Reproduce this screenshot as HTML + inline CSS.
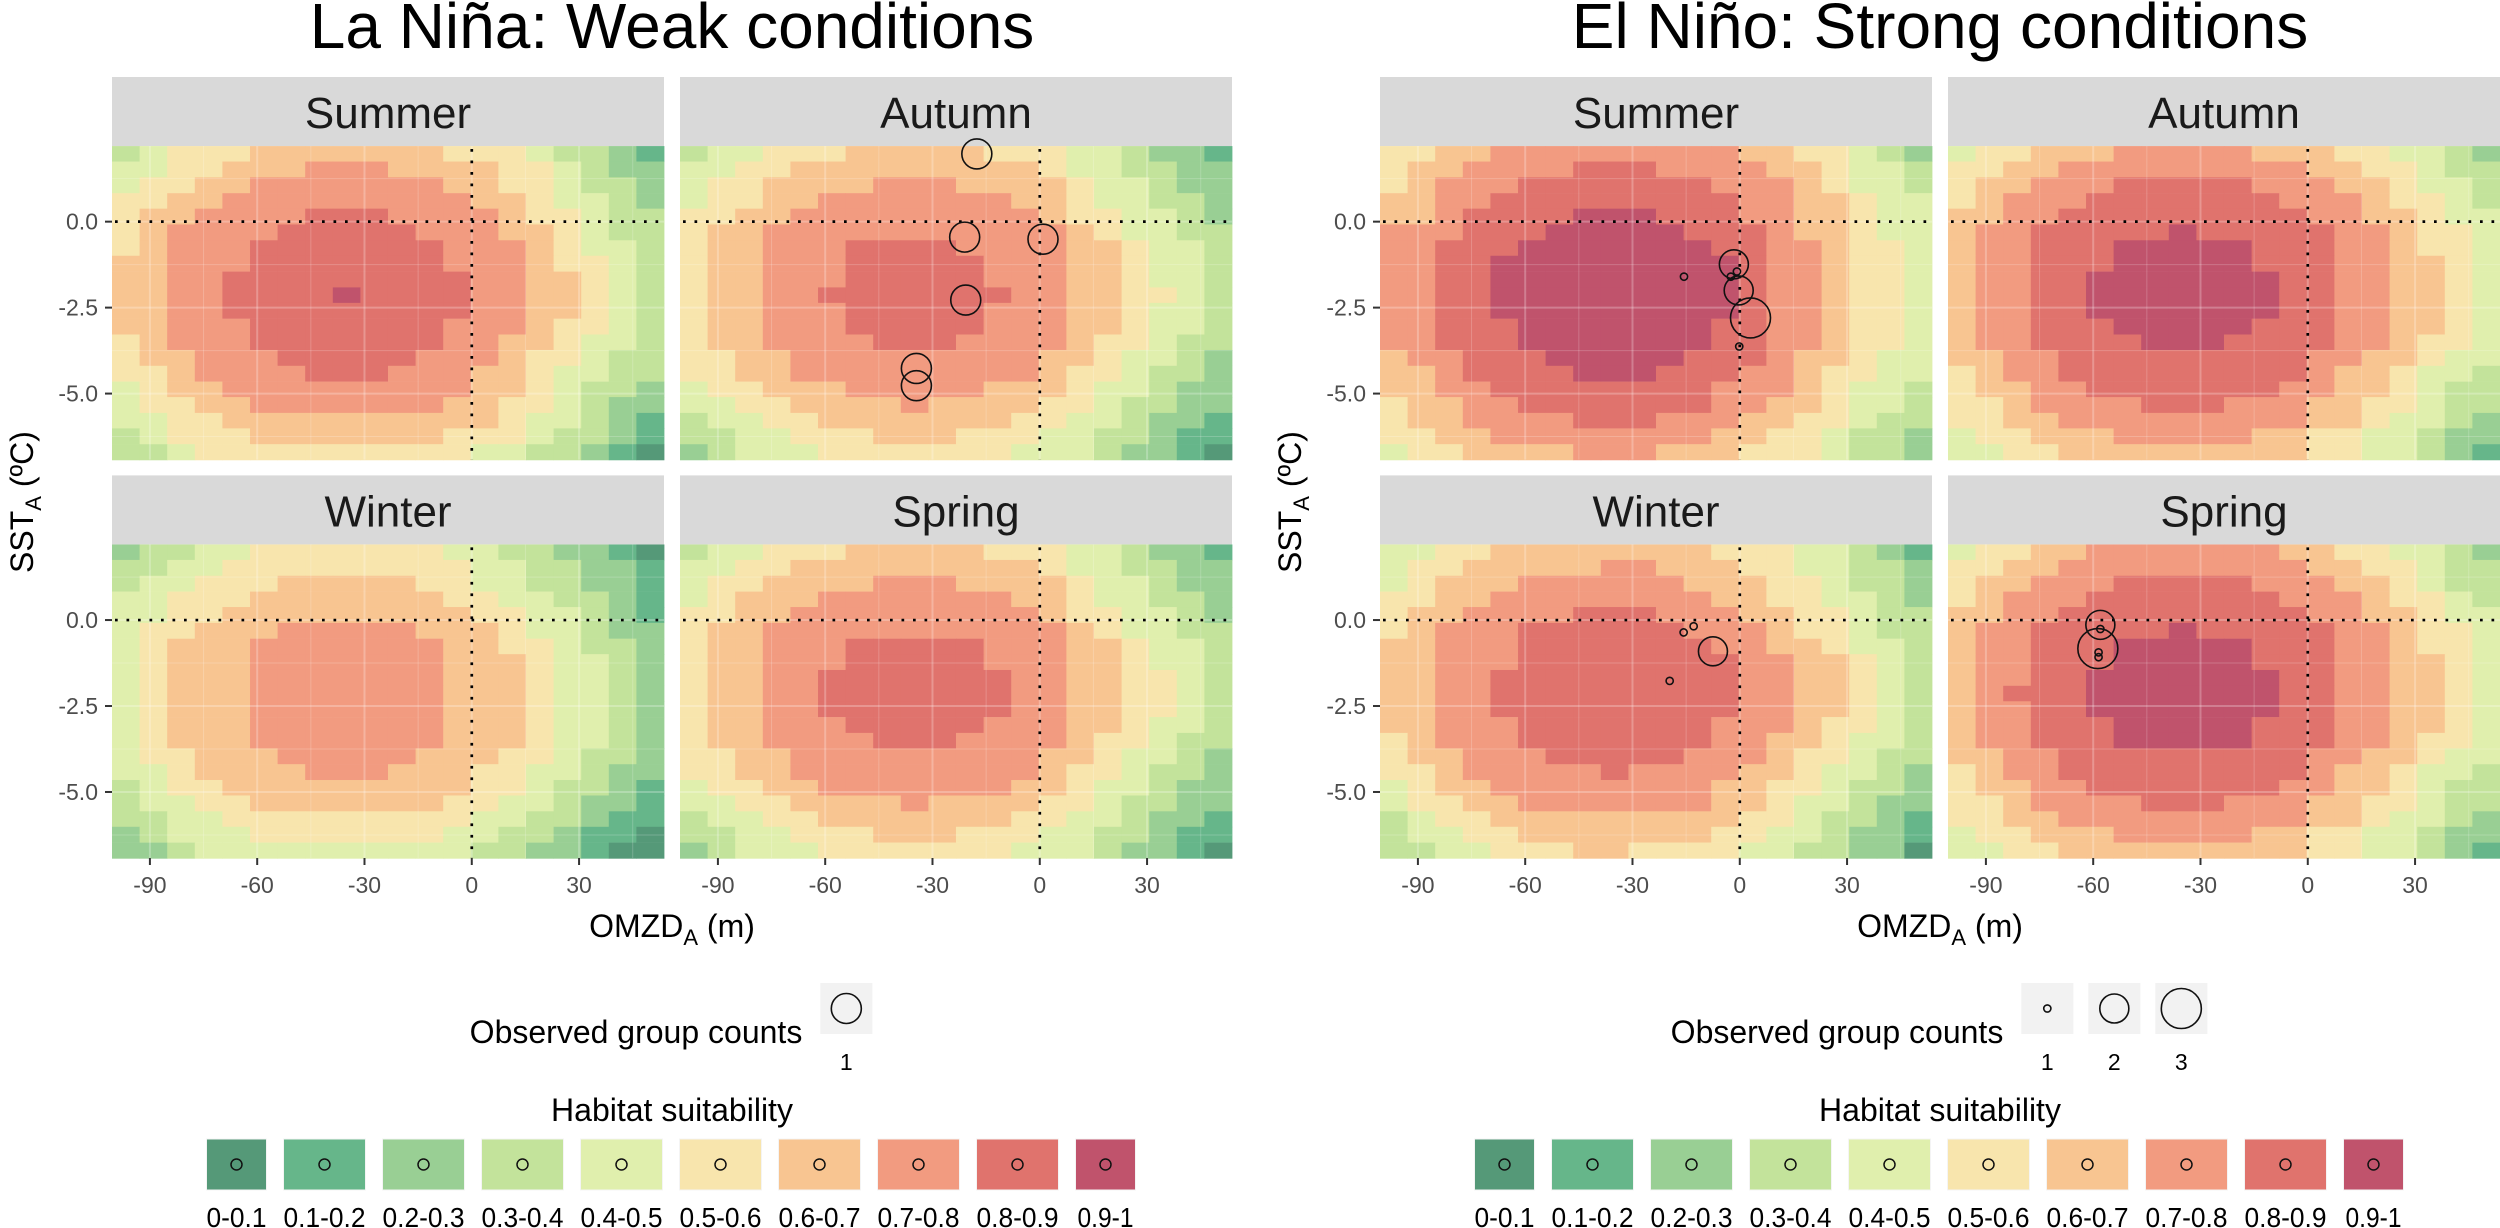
<!DOCTYPE html>
<html><head><meta charset="utf-8"><title>Habitat suitability</title>
<style>html,body{margin:0;padding:0;background:#fff}svg{display:block;font-family:"Liberation Sans",Arial,sans-serif}</style>
</head><body>
<svg id="chart" width="2500" height="1228" viewBox="0 0 2500 1228" xmlns="http://www.w3.org/2000/svg"></svg>
<script>
// ---- data ----
const omzdCenters = [-96.74,-89.02,-81.31,-73.59,-65.87,-58.15,-50.44,-42.72,-35.00,-27.28,-19.57,-11.85,-4.13,3.59,11.30,19.02,26.74,34.46,42.17,49.89];
const sstCenters = [1.97,1.52,1.06,0.60,0.15,-0.31,-0.77,-1.22,-1.68,-2.14,-2.59,-3.05,-3.51,-3.96,-4.42,-4.88,-5.33,-5.79,-6.24,-6.70];
const classLabels = ['0-0.1','0.1-0.2','0.2-0.3','0.3-0.4','0.4-0.5','0.5-0.6','0.6-0.7','0.7-0.8','0.8-0.9','0.9-1'];
const xTickValues = [-90,-60,-30,0,30];
const xTickLabels = ['-90','-60','-30','0','30'];
const yTickValues = [0,-2.5,-5];
const yTickLabels = ['0.0','-2.5','-5.0'];

const laNinaSummer = ["34555666666655543321","44556667776666554322","45566777777766554332","55667777777776654432","56677778887777655433","56777788888777665433","56777888888877765443","66777888888877765543","66778888888887766543","66778888988887766543","66778888888887766543","66777888888877765543","56777888888877665443","56677788888777655433","55677778887776654433","45667777777776654332","45566777777766554322","44556666666666544321","34555666666655543321","33455555555554433210"];
const laNinaAutumn = ["34455566666555443221","44556666666665443322","45566667776666544322","45566777777766544332","55667777777776554432","56677777777777654433","56677788887777665443","56677788888777665443","56677788888777665443","56677888888877665543","56677788888777665443","56677788888777665443","56677778887777655433","55667777777776654432","55667777777776554332","45566677777666544322","44556666766665543322","34455666666655443221","33445556665554433211","23444555555544432210"];
const laNinaWinter = ["23344555555544332210","33445555555554433221","34455566666554433221","44555666666655443321","44556666666665544321","45566677777666544322","45666777777766554332","45666777777766654432","45666777777766654432","45666777777766654432","45666777777766654432","45666777777766654432","45666777777766654432","45566677777666554332","44566667776665544322","34556666666665543321","34455666666655443221","33445555555554433211","23444555555544332110","22344444444443322100"];
const laNinaSpring = ["34455566666555443221","44556666666665443322","45566667776666544322","45666777777766544332","55667777777776554432","56677777777777654433","56677788888777665443","56677788888777665443","56677888888877665543","56677888888877665543","56677888888877665543","56677788888777665443","56677778887777655433","55667777777776654432","55667777777776554332","45566777777766544322","44556666766665543322","34455666666655443221","33445556665554433211","23444555555544432210"];
const elNinoSummer = ["55667777777776655432","56677778887777665443","56777888888877765443","66778888888887766544","66788889998887766544","77788899999888766544","77888999999988776554","77889999999998776554","77889999999998776554","77889999999998776554","77889999999998776554","77888999999988776554","77888999999988776554","67788899999888766544","66788889998887765544","66778888888877765443","56677888888877665443","56677778887776655433","55667777777766554332","45566667776665554332"];
const elNinoAutumn = ["45566677777666554432","55667777777776655433","56677788888777665443","56777888888877765543","66778888888887766544","67788888988888776554","67788899999888776554","67788899999888776654","67788999999988776654","67788999999988776654","67788999999988776654","67788899999888776654","67788889998888776554","66778888888887766544","56778888888887665443","56677888888877665433","55677778887776655433","55667777777776654432","45566677777665544322","44556666666665544321"];
const elNinoWinter = ["44556666666655544321","45566666776665544332","45666777777666554332","55667777777766554432","56677778887776655433","56777888888777655433","66777888888877665443","66777888888887766543","66778888888887766543","66778888888887766543","66778888888887766543","66777888888877765543","56777888888877665443","56677788888777655433","55677777877776654432","45667777777766554332","45566777777766544322","34556666666665543321","34455666666655443221","33445556655554433220"];
const elNinoSpring = ["45566777777766554432","55667777777776655433","56677788888777665433","56777888888877765543","66778888888887766544","67788888988888776554","67788899999888776554","67788899999888776654","67788999999988776654","67888999999988776654","67788999999988776654","67788899999888776654","67788899999888776554","66778888888887766544","56778888888887665443","56677888888877665433","55677778887776655433","55667777777776654432","45566677777665544322","44556666666665544321"];

const laNinaAutumnObsX = [-17.6,-21.0,0.9,-20.7,-34.5,-34.5];
const laNinaAutumnObsY = [1.97,-0.45,-0.51,-2.28,-4.27,-4.77];
const laNinaAutumnObsN = [1,1,1,1,1,1];
const elNinoSummerObsX = [-15.6,-1.65,-2.5,-0.8,-0.3,3.0,-0.15];
const elNinoSummerObsY = [-1.6,-1.24,-1.6,-1.45,-2.0,-2.8,-3.63];
const elNinoSummerObsN = [1,2,1,1,2,3,1];
const elNinoWinterObsX = [-15.7,-12.9,-7.5,-19.6];
const elNinoWinterObsY = [-0.36,-0.18,-0.91,-1.77];
const elNinoWinterObsN = [1,1,2,1];
const elNinoSpringObsX = [-58.0,-58.0,-58.7,-58.5,-58.5];
const elNinoSpringObsY = [-0.14,-0.26,-0.83,-0.94,-1.08];
const elNinoSpringObsN = [2,1,3,1,1];
const laNinaCountLevels = [1];
const elNinoCountLevels = [1,2,3];

// ---- styling / layout ----
const colors = ['#559978','#66b68a','#99cf94','#c3e39b','#e0efad','#f8e5ad','#f8c591','#f29b80','#e0736d','#c0536c'];
const X_MIN=-100.6, X_MAX=53.75, Y_MAX=2.2, Y_MIN=-6.92;
const PW=552, PH=313.6;
const NS='http://www.w3.org/2000/svg';
const svg=document.getElementById('chart');
function mk(tag,attrs,parent){const e=document.createElementNS(NS,tag);for(const k in attrs)e.setAttribute(k,attrs[k]);(parent||svg).appendChild(e);return e;}
function xs(p,x){return p.x0+(x-X_MIN)/(X_MAX-X_MIN)*PW;}
function ys(p,y){return p.y0+(Y_MAX-y)/(Y_MAX-Y_MIN)*PH;}
const cellW=(X_MAX-X_MIN)/20, cellH=(Y_MAX-Y_MIN)/20;

function drawPanel(ox,col,row,season,grid,obs,radii,figName){
  const p={x0:ox+(col?680:112), y0:(row?544.4:146)};
  const sy=p.y0-69;
  const g=mk('g',{});
  
  
  const strip=mk('rect',{x:p.x0,y:sy,width:PW,height:69,fill:'#d9d9d9'},g);
  
  
  const st=mk('text',{x:p.x0+PW/2,y:sy+51,'text-anchor':'middle','font-size':44,fill:'#1a1a1a'},g);
  st.textContent=season;
  
  
  const cg=mk('g',{},g);
  
  
  for(let j=0;j<sstCenters.length;j++){
    for(let i=0;i<omzdCenters.length;i++){
      const v=+grid[j][i];
      const x1=xs(p,omzdCenters[i]-cellW/2), x2=xs(p,omzdCenters[i]+cellW/2);
      const y1=ys(p,sstCenters[j]+cellH/2), y2=ys(p,sstCenters[j]-cellH/2);
      const r=mk('rect',{x:x1.toFixed(2),y:y1.toFixed(2),width:(x2-x1+0.4).toFixed(2),height:(y2-y1+0.4).toFixed(2),fill:colors[v]},cg);
      
      
    }
  }
  [-90,-60,-30,0,30].forEach(v=>mk('line',{x1:xs(p,v),x2:xs(p,v),y1:p.y0,y2:p.y0+PH,stroke:'#fff','stroke-opacity':0.25,'stroke-width':2},g));
  [-75,-45,-15,15,45].forEach(v=>mk('line',{x1:xs(p,v),x2:xs(p,v),y1:p.y0,y2:p.y0+PH,stroke:'#fff','stroke-opacity':0.2,'stroke-width':1},g));
  [0,-2.5,-5].forEach(v=>mk('line',{x1:p.x0,x2:p.x0+PW,y1:ys(p,v),y2:ys(p,v),stroke:'#fff','stroke-opacity':0.25,'stroke-width':2},g));
  [1.25,-1.25,-3.75,-6.25].forEach(v=>mk('line',{x1:p.x0,x2:p.x0+PW,y1:ys(p,v),y2:ys(p,v),stroke:'#fff','stroke-opacity':0.2,'stroke-width':1},g));
  const vl=mk('line',{x1:xs(p,0),x2:xs(p,0),y1:p.y0+3,y2:p.y0+PH,stroke:'#000','stroke-width':2.7,'stroke-dasharray':'2.7 8.8'},g);
  
  
  const hl=mk('line',{x1:p.x0+3,x2:p.x0+PW,y1:ys(p,0),y2:ys(p,0),stroke:'#000','stroke-width':2.7,'stroke-dasharray':'2.7 8.8'},g);
  
  
  if(obs){
    for(let k=0;k<obs.x.length;k++){
      const c=mk('circle',{cx:xs(p,obs.x[k]),cy:ys(p,obs.y[k]),r:radii[obs.n[k]],fill:'none',stroke:'#111','stroke-width':1.6},g);
      
      
    }
  }
  if(col===0){
    yTickValues.forEach((v,idx)=>{
      mk('line',{x1:p.x0-7,x2:p.x0,y1:ys(p,v),y2:ys(p,v),stroke:'#333','stroke-width':2},g);
      const t=mk('text',{x:p.x0-14,y:ys(p,v)+8,'text-anchor':'end','font-size':23,fill:'#4d4d4d'},g);
      t.textContent=yTickLabels[idx];
      
      
    });
  }
  if(row===1){
    xTickValues.forEach((v,idx)=>{
      mk('line',{x1:xs(p,v),x2:xs(p,v),y1:p.y0+PH,y2:p.y0+PH+7,stroke:'#333','stroke-width':2},g);
      const t=mk('text',{x:xs(p,v),y:893,'text-anchor':'middle','font-size':23,fill:'#4d4d4d'},g);
      t.textContent=xTickLabels[idx];
      
      
    });
  }
}

function drawFigure(ox,title,panels,radii,levels,figName){
  const t=mk('text',{x:ox+672,y:48,'text-anchor':'middle','font-size':64,fill:'#000'});
  t.textContent=title;
  
  
  panels.forEach(pn=>drawPanel(ox,pn.col,pn.row,pn.season,pn.grid,pn.obs,radii,figName));
  const xt=mk('text',{x:ox+672,y:937,'text-anchor':'middle','font-size':32,fill:'#000'});
  
  
  xt.innerHTML='OMZD<tspan font-size="22" dy="8">A</tspan><tspan dy="-8"> (m)</tspan>';
  const yt=mk('text',{x:0,y:0,'text-anchor':'middle','font-size':32,fill:'#000',transform:'translate('+(ox+33)+',502) rotate(-90)'});
  
  
  yt.innerHTML='SST<tspan font-size="22" dy="8">A</tspan><tspan dy="-8"> (ºC)</tspan>';
  const lg=mk('g',{});
  
  
  const keyW=52, keyGap=15;
  const ot=mk('text',{x:0,y:1043,'font-size':32,fill:'#000','text-anchor':'end'},lg);
  ot.textContent='Observed group counts';
  
  
  const tw=ot.getComputedTextLength();
  const total=tw+18+levels.length*keyW+(levels.length-1)*keyGap;
  const start=ox+671-total/2;
  ot.setAttribute('x',start+tw);
  levels.forEach((lv,i)=>{
    const kx=start+tw+18+i*(keyW+keyGap);
    const kb=mk('rect',{x:kx,y:983,width:keyW,height:51,fill:'#f2f2f2'},lg);
    
    
    mk('circle',{cx:kx+keyW/2,cy:1008.5,r:radii[lv],fill:'none',stroke:'#111','stroke-width':1.6},lg);
    const lt=mk('text',{x:kx+keyW/2,y:1070,'text-anchor':'middle','font-size':23,fill:'#000'},lg);
    lt.textContent=String(lv);
    
    
  });
  const cl=mk('g',{});
  
  
  const ht=mk('text',{x:ox+672,y:1121,'text-anchor':'middle','font-size':32,fill:'#000'},cl);
  ht.textContent='Habitat suitability';
  
  
  const ws=classLabels.map((s,i)=>(i===0||i===classLabels.length-1)?60:82);
  const gap=17;
  const tot=ws.reduce((a,b)=>a+b,0)+gap*(ws.length-1);
  let cx=ox+671-tot/2;
  ws.forEach((w,i)=>{
    const b=mk('rect',{x:cx,y:1139,width:w,height:51,fill:colors[i],stroke:'#f4f4f4','stroke-width':1},cl);
    
    
    mk('circle',{cx:cx+w/2,cy:1164.5,r:5.5,fill:'none',stroke:'#111','stroke-width':1.5},cl);
    const lab=mk('text',{x:cx+w/2,y:1227,'text-anchor':'middle','font-size':28,fill:'#000',textLength:(classLabels[i].length>5?82:(classLabels[i].length===5&&i===0?60:56)),lengthAdjust:'spacingAndGlyphs'},cl);
    lab.textContent=classLabels[i];
    
    
    cx+=w+gap;
  });
}

drawFigure(0,'La Niña: Weak conditions',[
  {col:0,row:0,season:'Summer',grid:laNinaSummer,obs:null},
  {col:1,row:0,season:'Autumn',grid:laNinaAutumn,obs:{x:laNinaAutumnObsX,y:laNinaAutumnObsY,n:laNinaAutumnObsN}},
  {col:0,row:1,season:'Winter',grid:laNinaWinter,obs:null},
  {col:1,row:1,season:'Spring',grid:laNinaSpring,obs:null}
],{1:15},laNinaCountLevels,'la-nina');

drawFigure(1268,'El Niño: Strong conditions',[
  {col:0,row:0,season:'Summer',grid:elNinoSummer,obs:{x:elNinoSummerObsX,y:elNinoSummerObsY,n:elNinoSummerObsN}},
  {col:1,row:0,season:'Autumn',grid:elNinoAutumn,obs:null},
  {col:0,row:1,season:'Winter',grid:elNinoWinter,obs:{x:elNinoWinterObsX,y:elNinoWinterObsY,n:elNinoWinterObsN}},
  {col:1,row:1,season:'Spring',grid:elNinoSpring,obs:{x:elNinoSpringObsX,y:elNinoSpringObsY,n:elNinoSpringObsN}}
],{1:3.6,2:14.5,3:20},elNinoCountLevels,'el-nino');
</script>
</body></html>
